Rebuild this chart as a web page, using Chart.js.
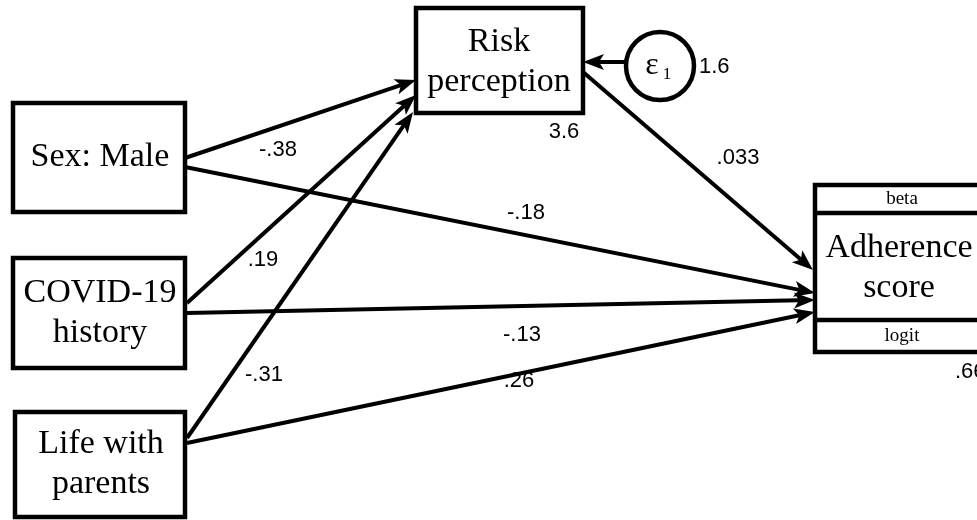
<!DOCTYPE html>
<html>
<head>
<meta charset="utf-8">
<script src="https://cdn.jsdelivr.net/npm/chart.js@4.4.1/dist/chart.umd.min.js"></script>
<style>
  html, body { margin: 0; padding: 0; background: #fff; }
  #wrap { width: 977px; height: 520px; }
</style>
</head>
<body>
<div id="wrap"><canvas id="path" width="977" height="520"></canvas></div>
<script>
// path model: three predictors -> risk perception -> adherence score
const predictors = ['Sex: Male', 'COVID-19 history', 'Life with parents'];
const predictorLines = [['Sex: Male'], ['COVID-19', 'history'], ['Life with', 'parents']];
const coefToRisk = [-0.38, 0.19, -0.31];
const coefToAdherence = [-0.18, -0.13, 0.26];
const coefRiskToAdherence = 0.033;
const riskIntercept = 3.6;
const errorVariance = 1.6;
const adherenceCut = 0.66;

// layout (canvas units, axes are 0..977 x 0..520)
const boxes = {
  sex: [13, 103, 185, 212],
  covid: [13, 258, 185, 368],
  life: [15, 412, 185, 517],
  risk: [416, 8, 583, 113],
  adh: [815, 185, 992, 352]
};
const predictorKeys = ['sex', 'covid', 'life'];
const startToRisk = [[185, 158], [187, 303], [187, 438]];
const endToRisk = [[416, 80], [416, 95], [413, 112]];
const startToAdh = [[185, 167], [187, 313], [187, 443]];
const endToAdh = [[815, 293], [815, 300], [815, 312]];
const riskToAdh = [[583, 72], [813, 270]];
const errToRisk = [[626, 62], [583, 62]];
const errCircle = [660, 66, 34];
const labelToRisk = [[278, 150], [263, 260], [264, 375]];
const labelToAdh = [[526, 213], [522, 335], [519, 381]];

const fmt = v => String(v).replace('0.', '.');

const edges = [];
predictorKeys.forEach((k, i) => {
  edges.push({ from: startToRisk[i], to: endToRisk[i] });
  edges.push({ from: startToAdh[i], to: endToAdh[i] });
});
edges.push({ from: riskToAdh[0], to: riskToAdh[1] });
edges.push({ from: errToRisk[0], to: errToRisk[1] });

const HEAD = 21;
// shorten line so it stops inside the arrow head
function trimmed(e) {
  const dx = e.to[0] - e.from[0], dy = e.to[1] - e.from[1];
  const len = Math.hypot(dx, dy);
  const k = (len - HEAD + 5) / len;
  return [{ x: e.from[0], y: e.from[1] }, { x: e.from[0] + dx * k, y: e.from[1] + dy * k }];
}

const datasets = edges.map(e => ({
  data: trimmed(e),
  borderColor: '#000',
  borderWidth: 4,
  pointRadius: 0,
  showLine: true,
  fill: false
}));

const diagram = {
  id: 'diagram',
  afterDatasetsDraw(chart) {
    const ctx = chart.ctx;
    const xs = chart.scales.x, ys = chart.scales.y;
    const px = v => xs.getPixelForValue(v);
    const py = v => ys.getPixelForValue(v);
    ctx.save();
    ctx.strokeStyle = '#000';
    ctx.fillStyle = '#000';

    // arrow heads
    edges.forEach(e => {
      const x1 = px(e.from[0]), y1 = py(e.from[1]);
      const x2 = px(e.to[0]), y2 = py(e.to[1]);
      const a = Math.atan2(y2 - y1, x2 - x1);
      ctx.save();
      ctx.translate(x2, y2);
      ctx.rotate(a);
      ctx.beginPath();
      ctx.moveTo(0, 0);
      ctx.lineTo(-HEAD, -8);
      ctx.lineTo(-HEAD + 5, 0);
      ctx.lineTo(-HEAD, 8);
      ctx.closePath();
      ctx.fill();
      ctx.restore();
    });

    // boxes
    ctx.lineWidth = 4.5;
    Object.values(boxes).forEach(b => {
      ctx.fillStyle = '#fff';
      ctx.fillRect(px(b[0]), py(b[1]), px(b[2]) - px(b[0]), py(b[3]) - py(b[1]));
      ctx.strokeRect(px(b[0]), py(b[1]), px(b[2]) - px(b[0]), py(b[3]) - py(b[1]));
    });
    const ad = boxes.adh;
    ctx.beginPath();
    ctx.moveTo(px(ad[0]), py(213)); ctx.lineTo(px(ad[2]), py(213));
    ctx.moveTo(px(ad[0]), py(320)); ctx.lineTo(px(ad[2]), py(320));
    ctx.stroke();

    // error circle
    ctx.beginPath();
    ctx.arc(px(errCircle[0]), py(errCircle[1]), errCircle[2], 0, Math.PI * 2);
    ctx.fillStyle = '#fff';
    ctx.fill();
    ctx.stroke();

    ctx.fillStyle = '#000';
    ctx.textAlign = 'center';
    ctx.textBaseline = 'middle';
    const serif = '"Liberation Serif", "DejaVu Serif", serif';
    const sans = '"Liberation Sans", Arial, sans-serif';

    // node labels
    ctx.font = '34px ' + serif;
    predictorKeys.forEach((k, i) => {
      const b = boxes[k];
      const cx = (b[0] + b[2]) / 2 + 1;
      const lines = predictorLines[i];
      const cy = (b[1] + b[3]) / 2;
      lines.forEach((t, j) => {
        ctx.fillText(t, px(cx), py(cy + (j - (lines.length - 1) / 2) * 40));
      });
    });
    ctx.fillText('Risk', px(499), py(42));
    ctx.fillText('perception', px(499), py(82));
    ctx.fillText('Adherence', px(899), py(248));
    ctx.fillText('score', px(899), py(288));
    ctx.font = '19px ' + serif;
    ctx.fillText('beta', px(902), py(199));
    ctx.fillText('logit', px(902), py(336));

    // epsilon
    ctx.font = '32px ' + serif;
    ctx.fillText('\u03b5', px(652), py(66));
    ctx.font = '17px ' + serif;
    ctx.fillText('1', px(667), py(75));

    // coefficients
    ctx.font = '22px ' + sans;
    coefToRisk.forEach((v, i) => ctx.fillText(fmt(v), px(labelToRisk[i][0]), py(labelToRisk[i][1])));
    coefToAdherence.forEach((v, i) => ctx.fillText(fmt(v), px(labelToAdh[i][0]), py(labelToAdh[i][1])));
    ctx.fillText(fmt(coefRiskToAdherence), px(738), py(158));
    ctx.fillText(fmt(riskIntercept), px(564), py(132));
    ctx.textAlign = 'left';
    ctx.fillText(fmt(errorVariance), px(699), py(67));
    ctx.fillText(fmt(adherenceCut), px(955), py(372));
    ctx.restore();
  }
};

new Chart(document.getElementById('path'), {
  type: 'scatter',
  data: { datasets },
  options: {
    responsive: false,
    animation: false,
    devicePixelRatio: 1,
    layout: { padding: 0 },
    plugins: { legend: { display: false }, tooltip: { enabled: false } },
    scales: {
      x: { type: 'linear', min: 0, max: 977, display: false },
      y: { type: 'linear', min: 0, max: 520, reverse: true, display: false }
    }
  },
  plugins: [diagram]
});
</script>
</body>
</html>
